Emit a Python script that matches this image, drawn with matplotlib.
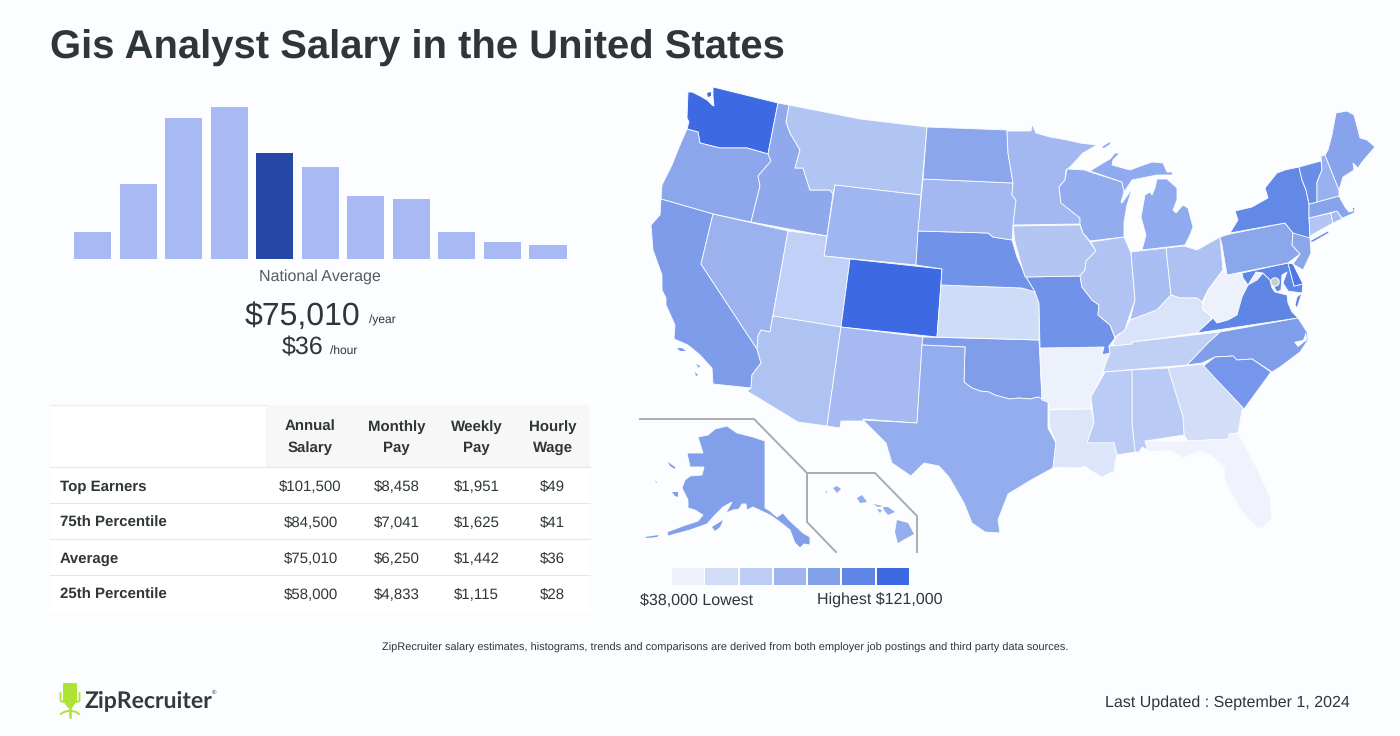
import matplotlib
matplotlib.use("Agg")
import matplotlib.pyplot as plt
from matplotlib.patches import Polygon, Rectangle, Circle, FancyBboxPatch

plt.rcParams['font.family'] = ['Liberation Sans', 'DejaVu Sans']
plt.rcParams['text.hinting'] = 'no_hinting'
plt.rcParams['text.hinting_factor'] = 1

W, H = 1400, 736
BG = '#FBFDFF'
INK = '#2F3638'

# ---- data -----------------------------------------------------------------
hist_values = [27, 75, 141, 152, 106, 92, 63, 60, 27, 17, 14]
hist_highlight = 4
table_cols = [('Annual', 'Salary'), ('Monthly', 'Pay'), ('Weekly', 'Pay'), ('Hourly', 'Wage')]
table_rows = ['Top Earners', '75th Percentile', 'Average', '25th Percentile']
table_vals = [['$101,500', '$8,458', '$1,951', '$49'],
              ['$84,500', '$7,041', '$1,625', '$41'],
              ['$75,010', '$6,250', '$1,442', '$36'],
              ['$58,000', '$4,833', '$1,115', '$28']]
legend_colors = ['#EFF2FC', '#D1DCF7', '#BECDF5', '#A0B5EF', '#82A0E9', '#5F86E5', '#3D6AE3']

state_color = {
 'WA':'#3D6AE3','CO':'#3D6AE3','NY':'#6389E6','VA':'#5F86E5','MD':'#5F86E5','DE':'#5078E4','VE':'#5F86E5',
 'NE':'#7092E8','MO':'#7092E8','SC':'#7596EA','OK':'#7F9DE8','CA':'#7E9CEA','OR':'#8CA6EC','ID':'#8FA9EC',
 'ND':'#8BA6EC','WI':'#92ACEE','MIU':'#8FAAEE','MIL':'#8FAAEE','TX':'#93ADEE','AK':'#82A0EA','ME':'#86A3EB',
 'NC':'#7F9DE9','PA':'#8BA7EC','NJ':'#8BA7EC','NV':'#9CB2EF','WY':'#A0B6F0','SD':'#A3B8F1','MN':'#A3B8F1',
 'NM':'#A7B9F1','AZ':'#AFC3F3','MT':'#B1C5F3','IL':'#B0C3F3','OH':'#ADC1F3','IA':'#B3C6F3','IN':'#A9BEF2',
 'UT':'#C0D0F6','MS':'#BACBF5','AL':'#B9CAF5','TN':'#C0D0F5','KS':'#CEDCF8','GA':'#D2DEF8','KY':'#D9E3F9',
 'LA':'#DCE5FA','WV':'#EDF1FC','AR':'#EDF1FC','FL':'#F0F3FD','VT':'#6A8EE8','NH':'#9AB1EF','MA':'#86A3EB',
 'CT':'#B3C6F3','RI':'#A5BAF1','LI':'#6389E6','HI':'#93ADEE',
}

state_shape = {
 'WA':[(688,92),(692,92),(700,96),(707,100),(712,105),(714,106),(713,96),(713,87),(778,103),(768,154),(747,148),(720,148),(700,143),(698,132),(687,129),(689,122),(687,118)],
 'OR':[(687,129),(698,132),(700,143),(720,148),(747,148),(768,154),(771,161),(758,176),(760,186),(751,222),(713,214),(661,199),(662,185),(672,165),(680,145)],
 'CA':[(661,199),(713,214),(701,264),(757,349),(761,363),(752,375),(751,388),(713,384),(712,368),(700,355),(688,345),(674,339),(675,325),(666,305),(666,298),(662,290),(662,275),(653,250),(651,225),(660,215)],
 'NV':[(713,214),(788,231),(770,332),(761,330),(758,336),(757,349),(701,264)],
 'ID':[(778,103),(789,105),(786,122),(790,133),(800,150),(795,168),(803,168),(810,190),(830,190),(833,194),(827,236),(751,222),(760,186),(758,176),(771,161),(768,154)],
 'MT':[(789,105),(860,119),(927,127),(921,195),(835,185),(833,194),(830,190),(810,190),(803,168),(795,168),(800,150),(790,133),(786,122)],
 'WY':[(835,185),(921,195),(916,265),(824,256)],
 'UT':[(788,231),(827,236),(824,256),(850,259),(841,327),(773,316)],
 'CO':[(850,259),(942,269),(937,337),(841,327)],
 'AZ':[(773,316),(841,327),(827,426),(798,422),(747,391),(751,388),(752,375),(761,363),(757,349),(758,336),(761,330),(770,332)],
 'NM':[(841,327),(923,337),(922,345),(917,423),(863,419),(865,421),(841,421),(840,428),(827,426)],
 'OK':[(923,337),(1039,340),(1042,400),(1038,397),(1030,399),(1019,398),(1010,399),(1002,397),(995,395),(989,392),(980,391),(972,388),(964,382),(965,347),(922,345)],
 'TX':[(922,345),(965,347),(964,382),(972,388),(980,391),(989,392),(995,395),(1002,397),(1010,399),(1019,398),(1030,399),(1038,397),(1048,402),(1048,428),(1056,443),(1053,468),(1031,480),(1008,494),(998,520),(1000,533),(985,532),(972,523),(964,503),(949,477),(939,466),(924,463),(911,476),(892,463),(886,443),(863,420),(917,423)],
 'KS':[(941,285),(1022,288),(1035,292),(1039,303),(1039,340),(937,337)],
 'AR':[(1040,348),(1104,347),(1102,355),(1110,353),(1106,363),(1103,372),(1098,383),(1092,397),(1090,409),(1050,409),(1048,402),(1042,400)],
 'MO':[(1026,277),(1080,276),(1082,287),(1092,300),(1099,305),(1098,315),(1110,325),(1115,338),(1109,346),(1110,353),(1102,355),(1104,347),(1040,348),(1039,303),(1035,292)],
 'NE':[(918,231),(988,233),(993,237),(1012,240),(1017,257),(1026,277),(1035,292),(1022,288),(941,285),(942,269),(916,265)],
 'SD':[(923,179),(1013,183),(1012,195),(1016,200),(1013,227),(1012,240),(993,237),(988,233),(918,231)],
 'ND':[(927,127),(1007,130),(1008,153),(1013,183),(923,179)],
 'MN':[(1007,131),(1031,131),(1032,124),(1036,133),(1050,137),(1067,140),(1080,143),(1097,145),(1083,153),(1070,167),(1066,170),(1065,180),(1059,187),(1061,203),(1080,218),(1080,224),(1013,225),(1016,200),(1012,195),(1013,183),(1008,153)],
 'IA':[(1013,226),(1080,225),(1083,233),(1090,242),(1096,251),(1086,261),(1085,270),(1080,276),(1025,277),(1020,260),(1015,242)],
 'WI':[(1067,169),(1085,170),(1090,172),(1122,182),(1124,192),(1121,202),(1122,203),(1132,189),(1127,205),(1124,222),(1124,237),(1090,241),(1083,233),(1080,224),(1080,218),(1061,203),(1059,187),(1065,180)],
 'MIU':[(1090,171),(1103,163),(1110,159),(1115,153),(1120,153),(1113,160),(1112,165),(1130,170),(1138,167),(1152,162),(1163,163),(1167,172),(1173,172),(1172,175),(1157,175),(1142,178),(1132,180),(1124,192),(1122,182)],
 'MIL':[(1157,179),(1167,179),(1177,188),(1177,200),(1173,210),(1176,213),(1183,205),(1188,208),(1193,227),(1190,235),(1185,245),(1142,250),(1146,235),(1141,217),(1145,195),(1150,192),(1152,195),(1155,188)],
 'IL':[(1091,242),(1124,237),(1131,253),(1135,300),(1128,320),(1125,330),(1115,337),(1110,325),(1098,315),(1099,305),(1092,300),(1082,287),(1080,276),(1085,270),(1086,261),(1096,251)],
 'IN':[(1131,252),(1166,248),(1171,295),(1157,310),(1130,320),(1135,300)],
 'OH':[(1166,248),(1184,246),(1197,250),(1220,237),(1223,270),(1208,290),(1202,302),(1197,298),(1180,298),(1171,295)],
 'KY':[(1171,295),(1180,298),(1197,298),(1202,302),(1203,310),(1213,317),(1197,333),(1132,342),(1132,344),(1113,346),(1115,338),(1125,330),(1130,320),(1157,310)],
 'TN':[(1113,346),(1132,344),(1132,342),(1220,332),(1208,343),(1187,365),(1103,372),(1106,363),(1110,353),(1109,346)],
 'WV':[(1227,275),(1242,273),(1243,278),(1248,285),(1256,272),(1265,277),(1257,280),(1248,285),(1242,297),(1237,315),(1228,320),(1217,323),(1202,307),(1208,290),(1223,270)],
 'VA':[(1197,333),(1213,318),(1217,323),(1228,320),(1237,315),(1242,297),(1248,285),(1257,280),(1263,273),(1270,280),(1272,288),(1275,292),(1287,295),(1288,303),(1292,312),(1298,318)],
 'VE':[(1297,297),(1302,293),(1297,308),(1295,305)],
 'MD':[(1242,273),(1288,263),(1294,286),(1303,284),(1302,293),(1288,291),(1283,283),(1287,272),(1282,275),(1281,290),(1277,292),(1270,280),(1263,273),(1256,272),(1248,285),(1243,278)],
 'DE':[(1288,263),(1293,264),(1303,284),(1294,286)],
 'PA':[(1220,237),(1230,234),(1285,223),(1293,233),(1292,245),(1300,254),(1288,263),(1227,275),(1222,245)],
 'NY':[(1299,167),(1302,180),(1306,190),(1309,204),(1309,218),(1310,236),(1308,242),(1293,233),(1285,223),(1230,233),(1238,220),(1235,211),(1252,207),(1268,198),(1265,188),(1277,173),(1285,170)],
 'LI':[(1308,242),(1328,231),(1329,233),(1313,242)],
 'NJ':[(1293,233),(1310,238),(1311,253),(1303,270),(1293,264),(1300,254),(1292,245)],
 'CT':[(1309,218),(1331,213),(1333,223),(1310,236)],
 'RI':[(1331,213),(1337,211),(1342,219),(1333,223)],
 'MA':[(1309,204),(1339,196),(1345,207),(1349,212),(1353,211),(1352,207),(1355,208),(1354,213),(1345,217),(1342,218),(1337,211),(1309,218)],
 'VT':[(1299,167),(1321,161),(1322,170),(1317,182),(1317,202),(1309,204),(1306,190),(1302,180)],
 'NH':[(1321,156),(1325,155),(1339,190),(1339,196),(1317,202),(1317,182),(1322,170)],
 'ME':[(1325,155),(1328,150),(1332,135),(1336,113),(1347,111),(1354,115),(1358,130),(1360,138),(1367,140),(1375,147),(1368,155),(1362,162),(1358,168),(1353,163),(1354,170),(1343,177),(1339,190)],
 'NC':[(1298,318),(1307,332),(1308,340),(1300,352),(1280,367),(1272,372),(1252,359),(1237,360),(1233,356),(1215,357),(1202,363),(1187,365),(1208,343),(1220,332)],
 'SC':[(1202,367),(1215,357),(1233,356),(1237,360),(1252,359),(1271,372),(1263,383),(1244,409),(1229,393)],
 'GA':[(1168,368),(1202,364),(1229,393),(1244,409),(1242,410),(1238,433),(1229,434),(1229,439),(1188,441),(1184,435),(1183,417)],
 'AL':[(1132,370),(1168,368),(1183,417),(1184,435),(1145,441),(1148,450),(1142,447),(1139,452),(1135,452),(1132,423)],
 'MS':[(1105,372),(1132,370),(1132,423),(1135,452),(1117,455),(1114,443),(1087,443),(1094,422),(1091,397)],
 'LA':[(1049,410),(1091,409),(1094,422),(1087,443),(1114,443),(1117,455),(1115,462),(1114,472),(1127,474),(1112,472),(1102,477),(1090,470),(1085,466),(1079,468),(1062,467),(1053,468),(1056,442),(1050,428)],
 'FL':[(1145,441),(1188,441),(1229,439),(1229,434),(1238,433),(1247,450),(1258,470),(1270,497),(1272,518),(1263,528),(1257,528),(1245,515),(1238,505),(1228,488),(1225,480),(1224,467),(1210,455),(1200,451),(1183,458),(1170,450),(1150,452),(1148,450)],
 'AK':[(765,441),(765,508),(770,511),(777,517),(783,513),(789,520),(803,533),(810,537),(810,545),(804,544),(800,548),(795,543),(790,530),(780,522),(770,515),(753,507),(747,510),(746,504),(742,504),(739,509),(733,510),(726,513),(732,502),(723,507),(715,515),(707,524),(690,530),(668,536),(667,532),(683,526),(698,521),(703,515),(695,510),(688,508),(688,500),(682,488),(685,480),(690,476),(702,475),(704,467),(690,467),(687,453),(703,453),(698,437),(708,435),(715,429),(727,426),(737,433),(753,437)],
}
island_shape = {
 'AK':[[(712,527),(723,520),(720,527),(715,531)],[(645,537),(659,535),(657,537),(647,538)],[(668,462),(675,467),(675,469),(670,466)],[(672,492),(678,492),(678,497),(675,496)],[(655,480),(657,483),(656,483)]],
 'CA':[[(677,348),(682,348),(686,351),(680,351)],[(696,364),(700,366),(699,368)],[(695,372),(698,375),(696,376)]],
 'HI':[[(895,532),(897,520),(908,523),(914,534),(903,540),(898,543)],[(883,507),(888,507),(895,512),(888,515),(884,510)],[(857,498),(862,495),(867,502),(860,503)],[(833,488),(837,486),(841,489),(837,493)],[(873,504),(883,506),(878,507)],[(877,509),(882,510),(880,513)],[(825,492),(827,491),(827,493)]],
 'WA':[[(707,93),(711,92),(711,96),(708,97)]],
 'MIU':[[(1102,147),(1110,142),(1110,144),(1104,148)]],
}
pamlico = [(1294,342),(1303,340),(1306,332),(1307,340),(1298,347)]
dc_point = (1275,282)
alaska_frame = [(640,419),(754,419),(807,473),(807,522),(836,552)]
hawaii_frame = [(807,473),(875,473),(917,516),(917,552)]

# ---- canvas ---------------------------------------------------------------
fig = plt.figure(figsize=(W/100, H/100), dpi=100, facecolor=BG)
ax = fig.add_axes([0, 0, 1, 1])
ax.set_xlim(0, W); ax.set_ylim(H, 0); ax.axis('off')

ax.text(50, 59, 'Gis Analyst Salary in the United States', fontsize=28.8, fontweight='bold', color=INK, va='baseline')

# ---- histogram ------------------------------------------------------------
hx = fig.add_axes([70/W, 1-259/H, 508/W, 152/H])
hx.set_xlim(-0.5, 10.66); hx.set_ylim(0, 152); hx.axis('off')
hx.bar(range(len(hist_values)), hist_values, width=0.815,
       color=['#2647A5' if i == hist_highlight else '#A8B9F3' for i in range(len(hist_values))])

ax.text(320, 281, 'National Average', fontsize=11.6, color='#555B5E', ha='center', va='baseline')
ax.text(360.5, 324.5, '$75,010', fontsize=23.4, color=INK, ha='right', va='baseline')
ax.text(369, 324, '/year', fontsize=8.6, color=INK, ha='left', va='baseline')
ax.text(323.5, 354.5, '$36', fontsize=17.7, color=INK, ha='right', va='baseline')
ax.text(330, 354, '/hour', fontsize=8.6, color=INK, ha='left', va='baseline')

# ---- table ----------------------------------------------------------------
ax.add_patch(Rectangle((50, 405), 540, 206, fc='white', ec='none'))
ax.add_patch(Rectangle((266, 405), 324, 62, fc='#F7F7F7', ec='none'))
ax.plot([50, 266], [405, 405], color='#EDEDED', lw=1)
col_x = [310.5, 396.5, 476.5, 552.5]
for cx, (l1, l2) in zip(col_x, table_cols):
    ax.text(cx, 431, l1, fontsize=11.1, fontweight='bold', color=INK, ha='center', va='baseline')
    ax.text(cx, 452, l2, fontsize=11.1, fontweight='bold', color=INK, ha='center', va='baseline')
for i, (lab, vals) in enumerate(zip(table_rows, table_vals)):
    yb = 491 + 36*i
    ax.plot([50, 590], [467 + 36*i]*2, color='#E6E6E6', lw=0.8)
    ax.text(60, yb, lab, fontsize=11.1, fontweight='bold', color=INK, va='baseline')
    for cx, v in zip(col_x, vals):
        ax.text(cx, yb, v, fontsize=11.1, color=INK, ha='center', va='baseline')

# ---- map ------------------------------------------------------------------
for name, pts in state_shape.items():
    ax.add_patch(Polygon(pts, closed=True, fc=state_color[name], ec=BG, lw=0.6, joinstyle='round'))
for name, parts in island_shape.items():
    for pts in parts:
        ax.add_patch(Polygon(pts, closed=True, fc=state_color[name], ec='none'))
ax.add_patch(Polygon(pamlico, closed=True, fc=BG, ec='none'))
ax.add_patch(Circle(dc_point, 4.2, fc='#C9CDCF', ec='#F5F5F5', lw=0.8))
for frame in (alaska_frame, hawaii_frame):
    ax.plot(*zip(*frame), color='#A9ABAD', lw=1.4, solid_joinstyle='miter')

# ---- colour legend ---------------------------------------------------------
leg_x = [671.5, 705, 740, 774, 808, 842, 877]
leg_w = [32, 33, 32, 32, 32, 33, 32]
for x, w, c in zip(leg_x, leg_w, legend_colors):
    ax.add_patch(Rectangle((x, 568), w, 17, fc=c, ec='none'))
ax.text(640, 604.6, '$38,000 Lowest', fontsize=11.6, color=INK, va='baseline')
ax.text(943, 605, 'Highest $121,000', fontsize=11.6, color=INK, ha='right', va='baseline')

# ---- footer ----------------------------------------------------------------
ax.text(725, 651, 'ZipRecruiter salary estimates, histograms, trends and comparisons are derived from both employer job postings and third party data sources.',
        fontsize=7.9, color=INK, ha='center', va='baseline')
ax.text(1350, 707, 'Last Updated : September 1, 2024', fontsize=11.6, color=INK, ha='right', va='baseline')

# logo
LIME = '#AEE336'
ax.add_patch(FancyBboxPatch((63, 683), 14, 19, boxstyle='round,pad=0,rounding_size=1', fc=LIME, ec='none'))
ax.add_patch(Polygon([(63, 701), (77, 701), (72, 708), (68, 708)], closed=True, fc=LIME, ec='none'))
ax.plot([60.5, 60.5, 63], [693, 701, 702], color=LIME, lw=1.3)
ax.plot([79.5, 79.5, 77], [693, 701, 702], color=LIME, lw=1.3)
ax.plot([70, 70], [706, 717], color=LIME, lw=1.8)
ax.plot([61, 64, 70, 76, 79], [714, 712, 710.5, 712, 714], color=LIME, lw=1.4)
ax.text(85, 707, 'ZipRecruiter', family=['Lato', 'DejaVu Sans'], fontsize=16.7, fontweight='bold', color='#33393C', va='baseline')
ax.text(211.5, 692.5, '®', fontsize=4, color='#33393C', va='center')

fig.savefig('out.png', dpi=100, facecolor=BG)
